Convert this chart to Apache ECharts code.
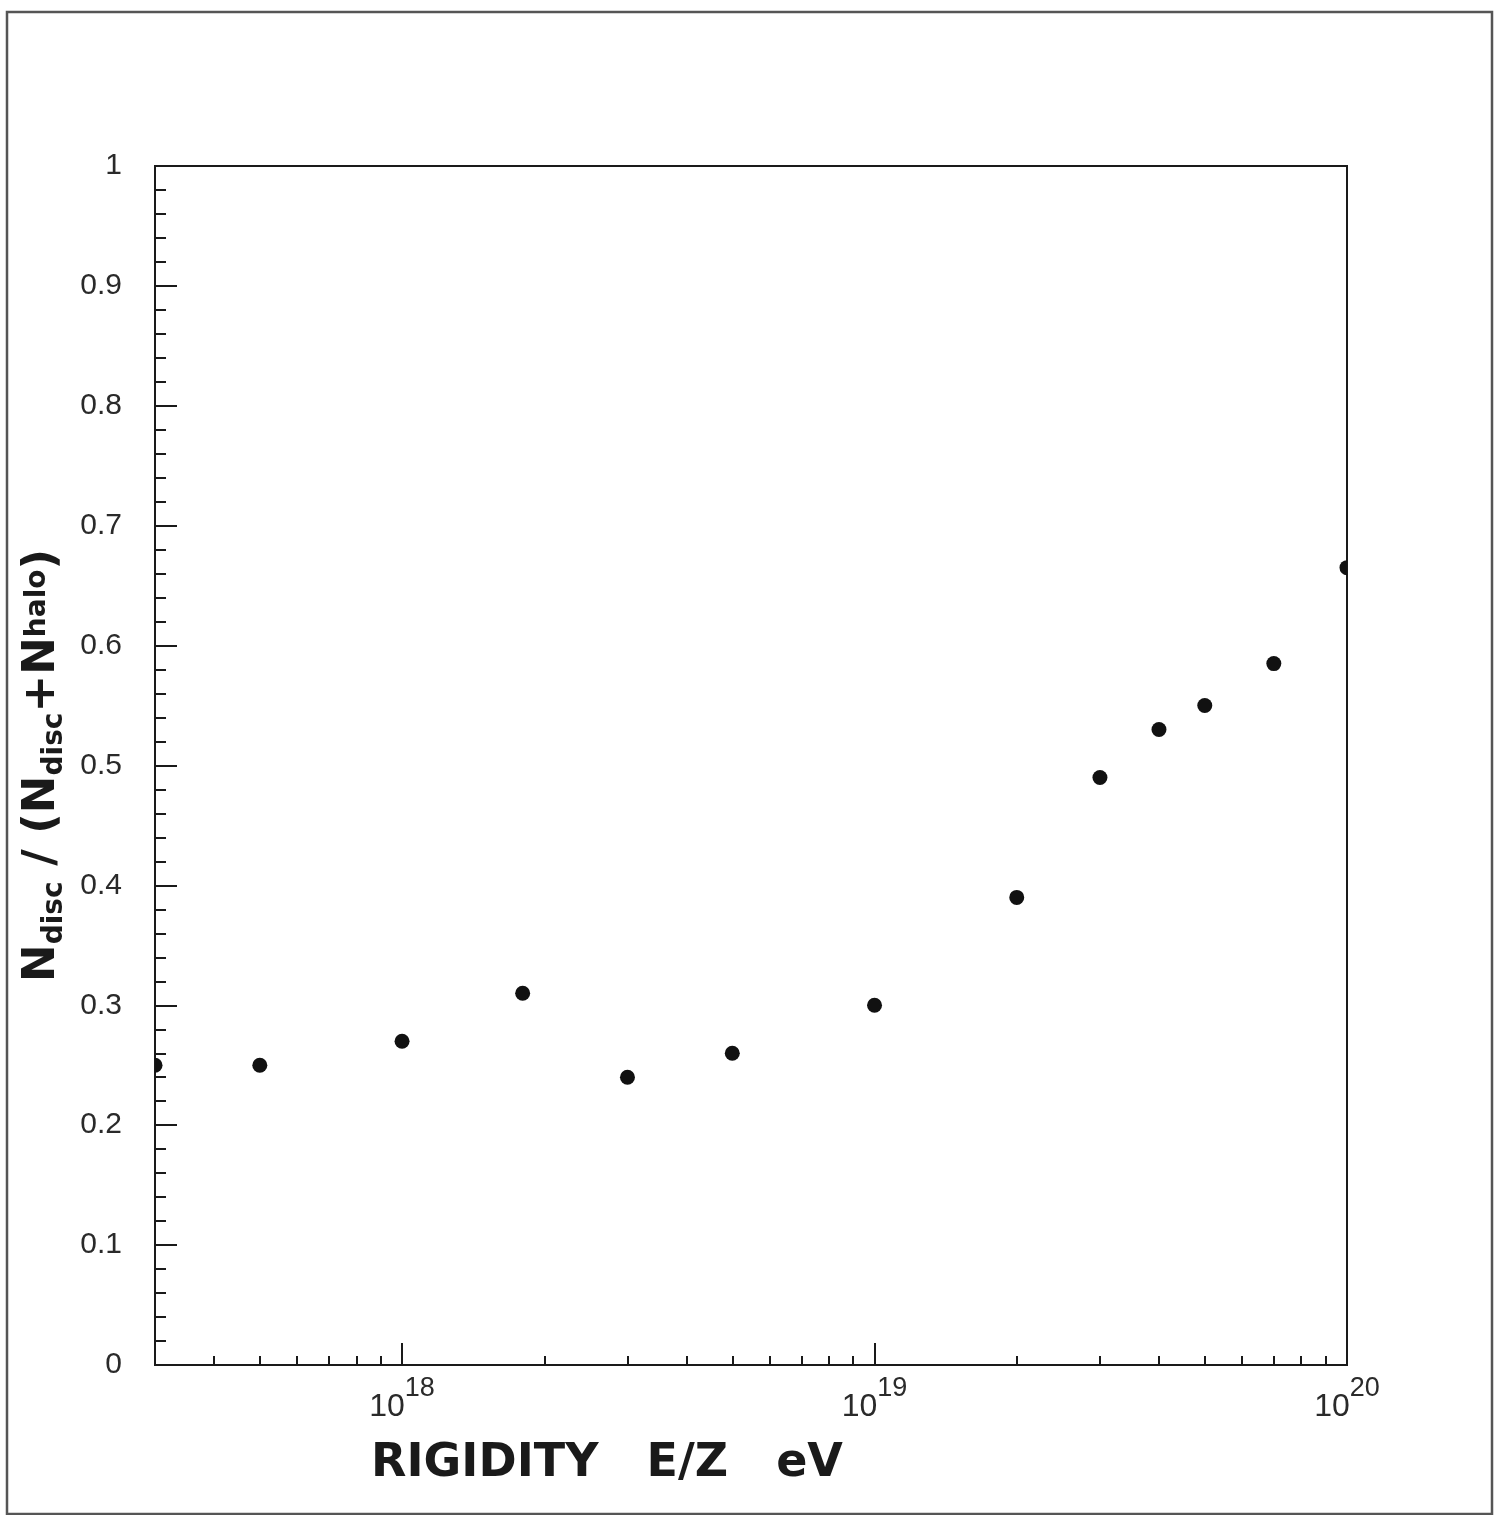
<!DOCTYPE html>
<html>
<head>
<meta charset="utf-8">
<script src="https://cdn.jsdelivr.net/npm/echarts@6/dist/echarts.min.js"></script>
<style>
  html, body { margin: 0; padding: 0; background: #fff; }
  #chart { width: 1494px; height: 1515px; }
</style>
</head>
<body>
<div id="chart"></div>
<script>
// Rigidity E/Z (eV) and disc fraction N_disc / (N_disc + N_halo)
const rigidity = [3e17, 5e17, 1e18, 1.8e18, 3e18, 5e18, 1e19, 2e19, 3e19, 4e19, 5e19, 7e19, 1e20];
const discFraction = [0.25, 0.25, 0.27, 0.31, 0.24, 0.26, 0.30, 0.39, 0.49, 0.53, 0.55, 0.585, 0.665];

// Log-axis range and tick positions (values in eV)
const xRange = [3e17, 1e20];
const majorTicks = [1e18, 1e19, 1e20];
const minorTicks = [4e17, 5e17, 6e17, 7e17, 8e17, 9e17,
                    2e18, 3e18, 4e18, 5e18, 6e18, 7e18, 8e18, 9e18,
                    2e19, 3e19, 4e19, 5e19, 6e19, 7e19, 8e19, 9e19];

const lg = Math.log10;
const ink = '#1a1a1a';
const labelInk = '#2a2a2a';
const labelFont = '"Liberation Sans", Arial, sans-serif';
const titleFont = '"DejaVu Sans", sans-serif';

const points = rigidity.map((e, i) => [lg(e), discFraction[i]]);

const chart = echarts.init(document.getElementById('chart'), null, { renderer: 'canvas' });

const baseX = {
  type: 'value',
  min: lg(xRange[0]),
  max: lg(xRange[1]),
  position: 'bottom',
  splitLine: { show: false }
};

chart.setOption({
  backgroundColor: '#fff',
  animation: false,
  graphic: [{
    type: 'rect',
    shape: { x: 7, y: 12, width: 1485, height: 1502 },
    style: { fill: null, stroke: '#555', lineWidth: 2.5 },
    silent: true
  }],
  grid: {
    left: 155, right: 147, top: 166, bottom: 150,
    show: true, borderColor: ink, borderWidth: 2
  },
  xAxis: [
    Object.assign({}, baseX, {
      name: 'RIGIDITY   E/Z   eV',
      nameLocation: 'middle',
      nameGap: 76,
      nameTextStyle: {
        fontFamily: titleFont, fontWeight: 'bold', fontSize: 46, color: ink,
        padding: [0, 288, 0, 0]
      },
      axisLine: { show: true, lineStyle: { color: ink, width: 2 } },
      axisTick: {
        show: true, inside: true, length: 22,
        customValues: majorTicks.map(lg),
        lineStyle: { color: ink, width: 2 }
      },
      axisLabel: {
        show: true,
        margin: 10,
        customValues: majorTicks.map(lg),
        formatter: v => '{b|10}{s|' + Math.round(v) + '}',
        rich: {
          b: { fontFamily: labelFont, fontSize: 32, color: labelInk, lineHeight: 48, verticalAlign: 'bottom' },
          s: { fontFamily: labelFont, fontSize: 27, color: labelInk, verticalAlign: 'top' }
        }
      }
    }),
    Object.assign({}, baseX, {
      axisLine: { show: false },
      axisLabel: { show: false },
      axisTick: {
        show: true, inside: true, length: 9,
        customValues: minorTicks.map(lg),
        lineStyle: { color: ink, width: 2 }
      }
    })
  ],
  yAxis: {
    type: 'value',
    min: 0, max: 1, interval: 0.1,
    name: '{n|N}{d|disc}{n| / (N}{d|disc}{n|+N}{h|halo}{n|)}',
    nameLocation: 'middle',
    nameRotate: 90,
    nameGap: 86,
    nameTextStyle: {
      rich: {
        n: { fontFamily: titleFont, fontWeight: 'bold', fontSize: 45, color: ink, lineHeight: 54, verticalAlign: 'middle' },
        d: { fontFamily: titleFont, fontWeight: 'bold', fontSize: 28, color: ink, verticalAlign: 'bottom' },
        h: { fontFamily: titleFont, fontWeight: 'bold', fontSize: 28, color: ink, verticalAlign: 'top', padding: [9, 0, 0, 0] }
      }
    },
    axisLine: { show: true, lineStyle: { color: ink, width: 2 } },
    axisTick: { show: true, inside: true, length: 22, lineStyle: { color: ink, width: 2 } },
    minorTick: { show: true, splitNumber: 5, length: 11, lineStyle: { color: ink, width: 2 } },
    splitLine: { show: false },
    minorSplitLine: { show: false },
    axisLabel: {
      margin: 33,
      fontFamily: labelFont, fontSize: 30, color: labelInk
    }
  },
  series: [{
    type: 'custom',
    xAxisIndex: 0,
    yAxisIndex: 0,
    clip: true,
    data: points,
    encode: { x: 0, y: 1 },
    renderItem: (params, api) => {
      const p = api.coord([api.value(0), api.value(1)]);
      return {
        type: 'circle',
        shape: { cx: p[0], cy: p[1], r: 7.5 },
        style: { fill: '#111' }
      };
    }
  }]
});
</script>
</body>
</html>
